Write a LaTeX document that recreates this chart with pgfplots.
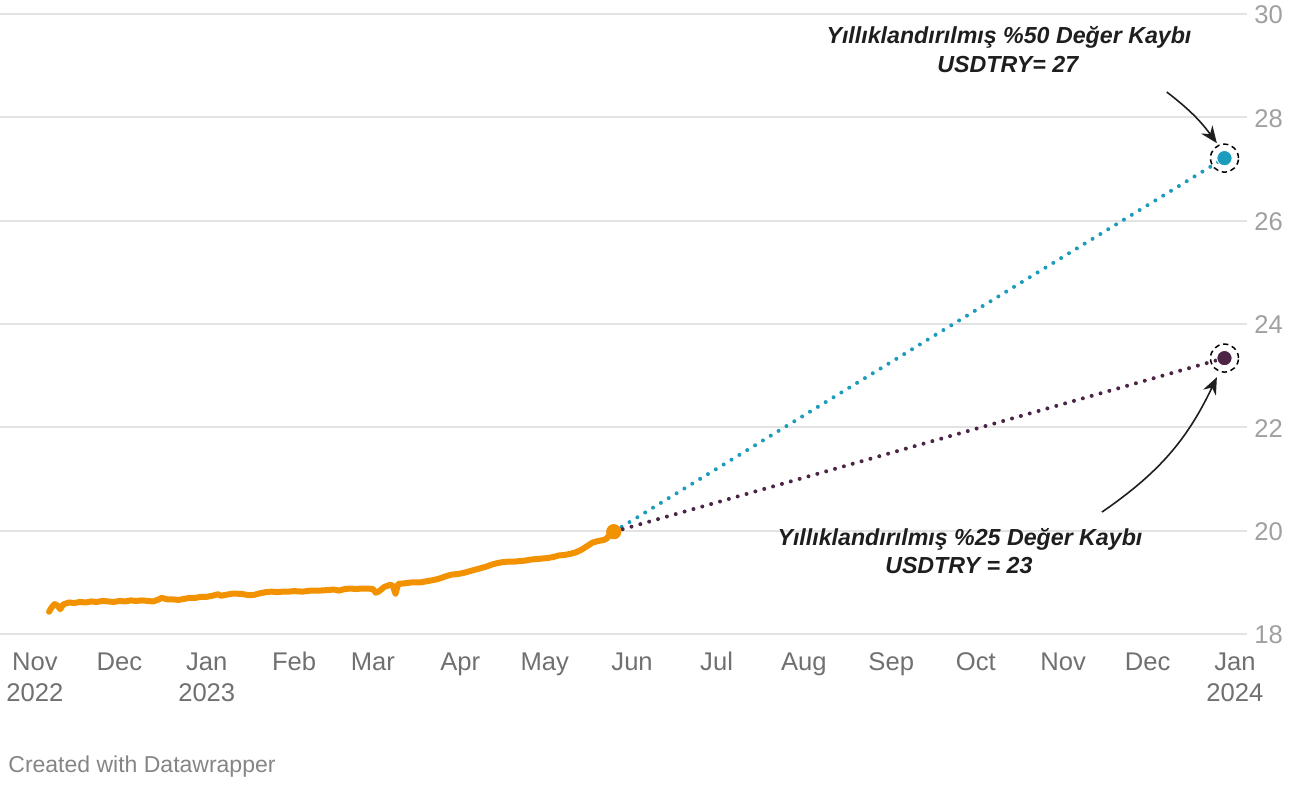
\documentclass[border=0pt]{standalone}
\usepackage{fontspec}
\setmainfont{Liberation Sans}
\usepackage{pgfplots}
\pgfplotsset{compat=1.18}
\usetikzlibrary{arrows.meta}
\definecolor{orangeL}{HTML}{F39200}
\definecolor{blueL}{HTML}{1B9CBC}
\definecolor{plumL}{HTML}{4B2446}
\definecolor{gridc}{HTML}{E3E3E3}
\definecolor{xlab}{HTML}{707070}
\definecolor{ylab}{HTML}{A0A0A0}
\definecolor{annot}{HTML}{1E1E1E}
\definecolor{credit}{HTML}{858585}

\pgfplotstableread{
day val
5 18.43
6 18.52
7 18.58
8 18.55
9 18.48
10 18.57
12 18.61
14 18.60
16 18.62
18 18.61
20 18.63
22 18.62
24 18.64
26 18.63
28 18.62
30 18.64
32 18.63
34 18.65
36 18.64
38 18.65
40 18.64
42 18.63
44 18.67
45 18.70
47 18.67
49 18.67
51 18.66
53 18.68
55 18.70
57 18.70
59 18.72
61 18.72
63 18.74
65 18.77
66 18.74
68 18.76
70 18.78
72 18.78
74 18.77
76 18.75
78 18.76
80 18.79
82 18.81
84 18.82
86 18.81
88 18.82
90 18.82
92 18.83
95 18.82
98 18.84
101 18.84
104 18.85
106 18.86
108 18.84
110 18.87
112 18.88
114 18.87
116 18.88
118 18.88
120 18.87
121 18.80
122 18.82
124 18.91
126 18.95
127 18.94
128 18.78
129 18.97
131 18.98
134 19.00
137 19.00
140 19.03
142 19.05
144 19.08
146 19.12
148 19.15
150 19.16
152 19.18
154 19.21
156 19.24
158 19.27
160 19.30
162 19.34
164 19.37
166 19.39
168 19.40
170 19.40
172 19.41
174 19.42
176 19.44
178 19.45
180 19.46
182 19.47
184 19.49
186 19.52
188 19.53
190 19.55
192 19.58
194 19.63
196 19.70
198 19.77
200 19.80
202 19.82
203 19.85
204 19.92
205.5 19.98
}\usdtry

\begin{document}
\begin{tikzpicture}[x=1pt,y=1pt]
\path[use as bounding box] (0,-75.5) rectangle (657.5,317);
\begin{axis}[
  at={(0,0)}, anchor=south west,
  scale only axis, width=623.5pt, height=310pt,
  xmin=-12.4, xmax=430.3, ymin=18, ymax=30,
  clip=false,
  axis line style={draw=none},
  major tick length=0pt,
  ymajorgrids, major grid style={gridc, line width=1pt},
  xtick={0,30,61,92,120,151,181,212,242,273,304,334,365,395,426},
  xticklabels={Nov\\2022, Dec, Jan\\2023, Feb, Mar, Apr, May, Jun, Jul, Aug, Sep, Oct, Nov, Dec, Jan\\2024},
  typeset ticklabels with strut,
  xticklabel style={align=center, font=\fontsize{12.8}{15.5}\selectfont, text=xlab, anchor=north, yshift=-4pt},
  ytick={18,20,22,24,26,28,30},
  yticklabels={18,20,22,24,26,28,30},
  yticklabel pos=right,
  yticklabel style={anchor=west, font=\fontsize{12.8}{15}\selectfont, text=ylab, inner sep=0pt, xshift=3.5pt, yshift=-2pt},
]
\addplot[blueL, line width=2pt, dash pattern=on 0pt off 4.6pt, line cap=round] coordinates {(205.5,19.98) (422.3,27.21)};
\addplot[plumL, line width=2pt, dash pattern=on 0pt off 4.6pt, line cap=round] coordinates {(205.5,19.98) (422.3,23.34)};
\addplot[orangeL, line width=3pt, line join=round, line cap=round] table[x=day, y=val] {\usdtry};
\addplot[only marks, mark=*, mark size=3.6pt, mark options={fill=orangeL, draw=orangeL}] coordinates {(205.5,19.98)};
\addplot[only marks, mark=*, mark size=3.8pt, mark options={fill=blueL, draw=white, line width=0.4pt}] coordinates {(422.3,27.21)};
\addplot[only marks, mark=*, mark size=3.8pt, mark options={fill=plumL, draw=white, line width=0.4pt}] coordinates {(422.3,23.34)};
\addplot[only marks, mark=o, mark size=7pt, mark options={draw=black, line width=0.75pt, dash pattern=on 2.6pt off 1.9pt}] coordinates {(422.3,27.21) (422.3,23.34)};

\node[font=\fontsize{11.6}{14}\selectfont\bfseries\itshape, text=annot, anchor=base] at (axis cs:345.8,29.42) {Yıllıklandırılmış \%50 Değer Kaybı};
\node[font=\fontsize{11.6}{14}\selectfont\bfseries\itshape, text=annot, anchor=base] at (axis cs:345.4,28.86) {USDTRY= 27};
\node[font=\fontsize{11.6}{14}\selectfont\bfseries\itshape, text=annot, anchor=base] at (axis cs:328.4,19.72) {Yıllıklandırılmış \%25 Değer Kaybı};
\node[font=\fontsize{11.6}{14}\selectfont\bfseries\itshape, text=annot, anchor=base] at (axis cs:328,19.18) {USDTRY = 23};

\draw[annot, line width=0.8pt, -{Stealth[length=8.5pt,width=7pt]}] (axis cs:401.8,28.49) to[bend left=8] (axis cs:419.6,27.50);
\draw[annot, line width=0.8pt, -{Stealth[length=8.5pt,width=7pt]}] (axis cs:378.8,20.36) to[bend right=15] (axis cs:419.6,22.97);
\end{axis}
\node[anchor=base west, inner sep=0pt, font=\fontsize{11.5}{14}\selectfont, text=credit] at (4,-69.5) {Created with Datawrapper};
\end{tikzpicture}
\end{document}
